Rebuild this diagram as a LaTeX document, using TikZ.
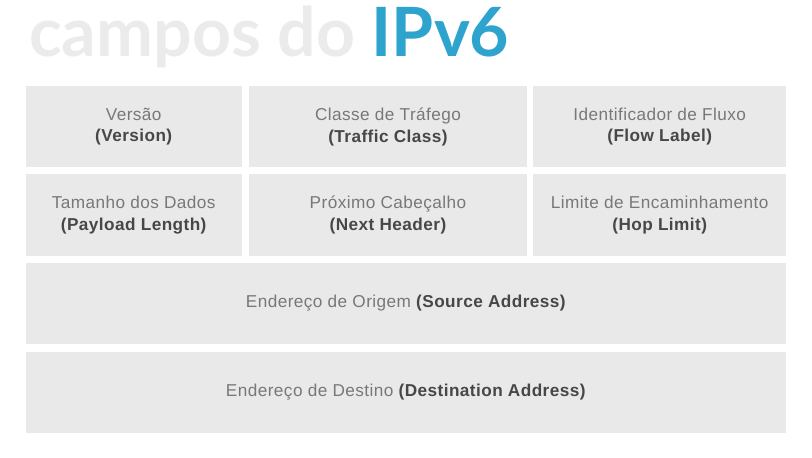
\documentclass[tikz,border=0pt]{standalone}
\usepackage{fontspec}
\setmainfont[LetterSpace=2.5]{Liberation Sans}
\newfontfamily\titlefont{Lato}
\usetikzlibrary{positioning}

\definecolor{boxgray}{HTML}{E9E9E9}
\definecolor{titlegray}{HTML}{EBEBEB}
\definecolor{ipblue}{HTML}{2EA3CE}
\definecolor{ptgray}{HTML}{787878}
\definecolor{engdark}{HTML}{474747}

\newcommand{\eng}[1]{{\bfseries\color{engdark}#1}}

\tikzset{
    field/.style={fill=boxgray, inner sep=0pt, minimum height=81.5pt,
        align=center, text=ptgray, font=\fontsize{17.2}{21.7}\selectfont},
}

\begin{document}
\begin{tikzpicture}[x=1pt, y=-1pt]
    \useasboundingbox (0,0) rectangle (812,458);

    % Title
    \node[anchor=base west, inner sep=0pt, font=\titlefont\fontsize{68}{68}\selectfont\bfseries]
        (title) at (29,56.7) {\color{titlegray}campos do \color{ipblue}IPv6};

    % First row
    \node[field, minimum width=216pt] (version) at (133.7,126.7) {Versão\\\eng{(Version)}};
    \node[field, minimum width=277.4pt] (tclass) at (388,126.7) {Classe de Tráfego\\\eng{(Traffic Class)}};
    \node[field, minimum width=252.7pt] (flow) at (659.7,126.7) {Identificador de Fluxo\\\eng{(Flow Label)}};

    % Second row
    \node[field, minimum width=216pt] (payload) at (133.7,214.9) {Tamanho dos Dados\\\eng{(Payload Length)}};
    \node[field, minimum width=277.4pt] (nexthdr) at (388,214.9) {Próximo Cabeçalho\\\eng{(Next Header)}};
    \node[field, minimum width=252.7pt] (hoplim) at (659.7,214.9) {Limite de Encaminhamento\\\eng{(Hop Limit)}};

    % Addresses
    \node[field, minimum width=760.5pt] (src) at (405.75,303.3) {Endereço de Origem \eng{(Source Address)}};
    \node[field, minimum width=760.5pt] (dst) at (405.75,392.5) {Endereço de Destino \eng{(Destination Address)}};

\end{tikzpicture}
\end{document}
